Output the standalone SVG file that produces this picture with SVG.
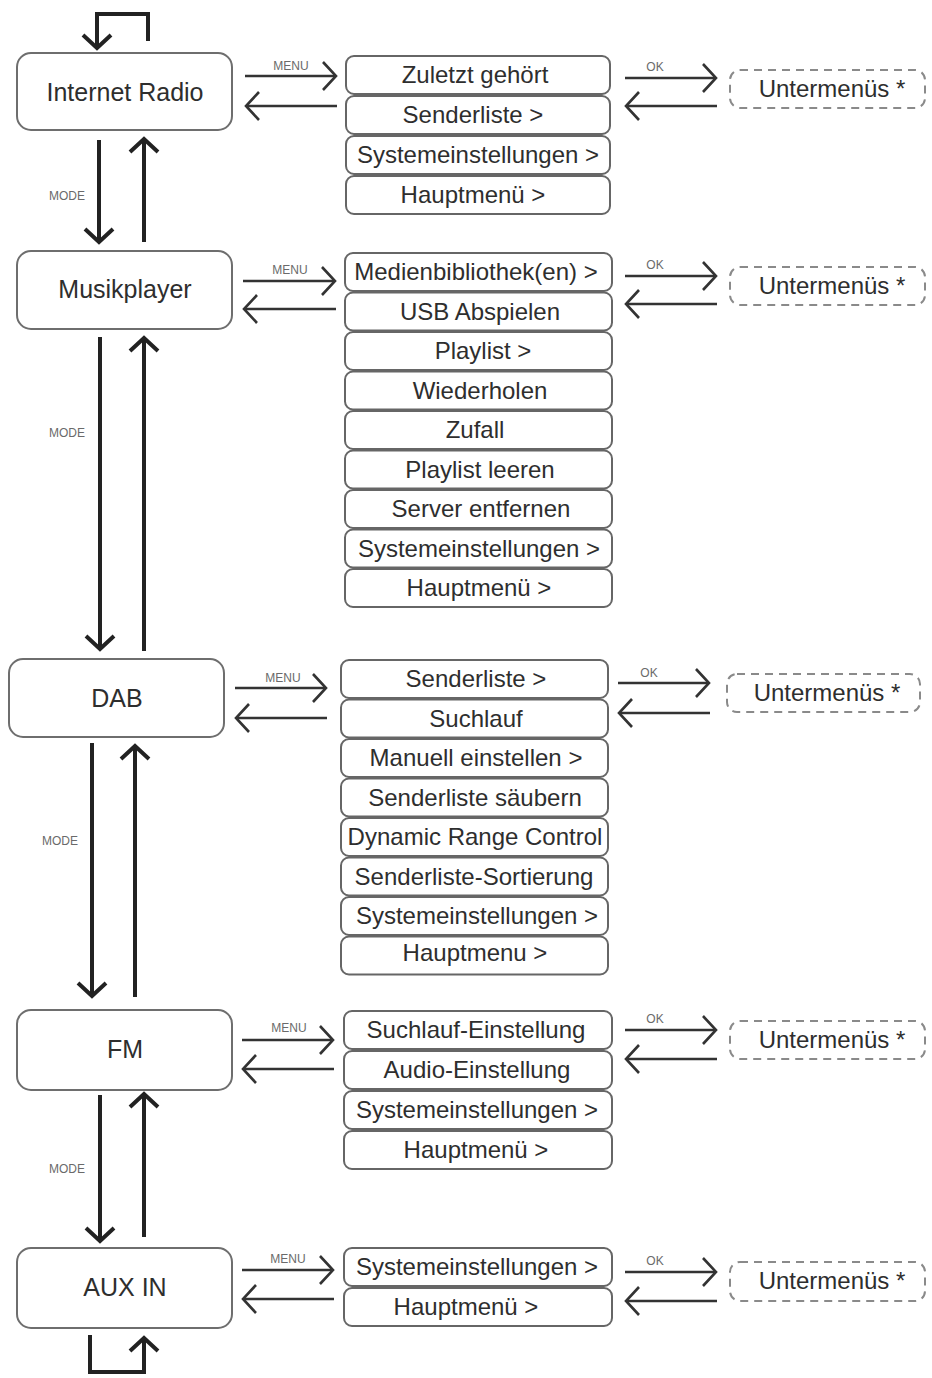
<svg xmlns="http://www.w3.org/2000/svg" width="932" height="1378" viewBox="0 0 932 1378">
<style>
  .bg{fill:#ffffff}
  .node{fill:#ffffff;stroke:#6e6e6e;stroke-width:2}
  .item{fill:#ffffff;stroke:#666666;stroke-width:2}
  .sub{fill:#ffffff;stroke:#8a8a8a;stroke-width:2;stroke-dasharray:8 6}
  .t{font-family:"Liberation Sans",Arial,sans-serif;font-size:24px;fill:#2e2e2e;text-anchor:middle}
  .tm{font-family:"Liberation Sans",Arial,sans-serif;font-size:25px;fill:#2e2e2e;text-anchor:middle}
  .lbl{font-family:"Liberation Sans",Arial,sans-serif;font-size:12px;fill:#6a6a6a;text-anchor:middle}
  .mode{stroke:#222222;stroke-width:4;fill:none}
  .menu{stroke:#333333;stroke-width:2.6;fill:none}
</style>
<defs>
  <marker id="hThick" markerUnits="userSpaceOnUse" viewBox="-18 -18 22 36" refX="0" refY="0" markerWidth="22" markerHeight="36" orient="auto">
    <path d="M-13,-14 L0,0 L-13,14" fill="none" stroke="#222222" stroke-width="4"/>
  </marker>
  <marker id="hThin" markerUnits="userSpaceOnUse" viewBox="-18 -18 22 36" refX="0" refY="0" markerWidth="22" markerHeight="36" orient="auto">
    <path d="M-13,-14 L0,0 L-13,14" fill="none" stroke="#333333" stroke-width="2.6"/>
  </marker>
</defs>
<rect class="bg" x="0" y="0" width="932" height="1378"/>

<g id="connectors">
  <path class="mode" d="M148,41 L148,14 L97,14 L97,48" marker-end="url(#hThick)"/>
  <path class="mode" d="M90,1335 L90,1372 L144,1372 L144,1338" marker-end="url(#hThick)"/>
  <line class="mode" x1="99" y1="140" x2="99" y2="242" marker-end="url(#hThick)"/>
  <line class="mode" x1="144" y1="242" x2="144" y2="139" marker-end="url(#hThick)"/>
  <text class="lbl" x="67" y="200">MODE</text>
  <line class="mode" x1="100" y1="337" x2="100" y2="649" marker-end="url(#hThick)"/>
  <line class="mode" x1="144" y1="651" x2="144" y2="338" marker-end="url(#hThick)"/>
  <text class="lbl" x="67" y="437">MODE</text>
  <line class="mode" x1="92" y1="743" x2="92" y2="996" marker-end="url(#hThick)"/>
  <line class="mode" x1="135" y1="997" x2="135" y2="746" marker-end="url(#hThick)"/>
  <text class="lbl" x="60" y="845">MODE</text>
  <line class="mode" x1="100" y1="1095" x2="100" y2="1241" marker-end="url(#hThick)"/>
  <line class="mode" x1="144" y1="1237" x2="144" y2="1094" marker-end="url(#hThick)"/>
  <text class="lbl" x="67" y="1173">MODE</text>

  <line class="menu" x1="245" y1="76" x2="336" y2="76" marker-end="url(#hThin)"/>
  <line class="menu" x1="337" y1="106" x2="246" y2="106" marker-end="url(#hThin)"/>
  <text class="lbl" x="291" y="70">MENU</text>
  <line class="menu" x1="625" y1="78" x2="716" y2="78" marker-end="url(#hThin)"/>
  <line class="menu" x1="717" y1="106" x2="626" y2="106" marker-end="url(#hThin)"/>
  <text class="lbl" x="655" y="71">OK</text>

  <line class="menu" x1="243" y1="281" x2="335" y2="281" marker-end="url(#hThin)"/>
  <line class="menu" x1="336" y1="309" x2="244" y2="309" marker-end="url(#hThin)"/>
  <text class="lbl" x="290" y="274">MENU</text>
  <line class="menu" x1="625" y1="276" x2="716" y2="276" marker-end="url(#hThin)"/>
  <line class="menu" x1="717" y1="304" x2="626" y2="304" marker-end="url(#hThin)"/>
  <text class="lbl" x="655" y="269">OK</text>

  <line class="menu" x1="235" y1="688" x2="326" y2="688" marker-end="url(#hThin)"/>
  <line class="menu" x1="327" y1="718" x2="236" y2="718" marker-end="url(#hThin)"/>
  <text class="lbl" x="283" y="682">MENU</text>
  <line class="menu" x1="618" y1="683" x2="709" y2="683" marker-end="url(#hThin)"/>
  <line class="menu" x1="710" y1="713" x2="619" y2="713" marker-end="url(#hThin)"/>
  <text class="lbl" x="649" y="677">OK</text>

  <line class="menu" x1="242" y1="1040" x2="333" y2="1040" marker-end="url(#hThin)"/>
  <line class="menu" x1="334" y1="1069" x2="243" y2="1069" marker-end="url(#hThin)"/>
  <text class="lbl" x="289" y="1032">MENU</text>
  <line class="menu" x1="625" y1="1030" x2="716" y2="1030" marker-end="url(#hThin)"/>
  <line class="menu" x1="717" y1="1059" x2="626" y2="1059" marker-end="url(#hThin)"/>
  <text class="lbl" x="655" y="1023">OK</text>

  <line class="menu" x1="242" y1="1270" x2="333" y2="1270" marker-end="url(#hThin)"/>
  <line class="menu" x1="334" y1="1299" x2="243" y2="1299" marker-end="url(#hThin)"/>
  <text class="lbl" x="288" y="1263">MENU</text>
  <line class="menu" x1="625" y1="1272" x2="716" y2="1272" marker-end="url(#hThin)"/>
  <line class="menu" x1="717" y1="1301" x2="626" y2="1301" marker-end="url(#hThin)"/>
  <text class="lbl" x="655" y="1265">OK</text>
</g>

<g id="node-internet-radio">
  <rect class="node" x="17" y="53" width="215" height="77" rx="14"/>
  <text class="tm" x="125" y="101">Internet Radio</text>
</g>
<g id="node-musikplayer">
  <rect class="node" x="17" y="251" width="215" height="78" rx="14"/>
  <text class="tm" x="125" y="298">Musikplayer</text>
</g>
<g id="node-dab">
  <rect class="node" x="9" y="659" width="215" height="78" rx="14"/>
  <text class="tm" x="117" y="707">DAB</text>
</g>
<g id="node-fm">
  <rect class="node" x="17" y="1010" width="215" height="80" rx="14"/>
  <text class="tm" x="125" y="1058">FM</text>
</g>
<g id="node-aux-in">
  <rect class="node" x="17" y="1248" width="215" height="80" rx="14"/>
  <text class="tm" x="125" y="1296">AUX IN</text>
</g>

<g id="menu-internet-radio">
  <rect class="item" x="346" y="56" width="264" height="38" rx="8"/>
  <text class="t" x="475" y="83">Zuletzt gehört</text>
  <rect class="item" x="346" y="96" width="264" height="38" rx="8"/>
  <text class="t" x="473" y="123">Senderliste &gt;</text>
  <rect class="item" x="346" y="136" width="264" height="38" rx="8"/>
  <text class="t" x="478" y="163">Systemeinstellungen &gt;</text>
  <rect class="item" x="346" y="176" width="264" height="38" rx="8"/>
  <text class="t" x="473" y="203">Hauptmenü &gt;</text>
</g>
<g id="sub-internet-radio">
  <rect class="sub" x="730" y="70" width="195" height="38" rx="10"/>
  <text class="t" x="832" y="97">Untermenüs *</text>
</g>

<g id="menu-musikplayer">
  <rect class="item" x="345" y="253" width="267" height="38" rx="8"/>
  <text class="t" x="476" y="280">Medienbibliothek(en) &gt;</text>
  <rect class="item" x="345" y="292.5" width="267" height="38" rx="8"/>
  <text class="t" x="480" y="319.5">USB Abspielen</text>
  <rect class="item" x="345" y="332" width="267" height="38" rx="8"/>
  <text class="t" x="483" y="359">Playlist &gt;</text>
  <rect class="item" x="345" y="371.5" width="267" height="38" rx="8"/>
  <text class="t" x="480" y="398.5">Wiederholen</text>
  <rect class="item" x="345" y="411" width="267" height="38" rx="8"/>
  <text class="t" x="475" y="438">Zufall</text>
  <rect class="item" x="345" y="450.5" width="267" height="38" rx="8"/>
  <text class="t" x="480" y="477.5">Playlist leeren</text>
  <rect class="item" x="345" y="490" width="267" height="38" rx="8"/>
  <text class="t" x="481" y="517">Server entfernen</text>
  <rect class="item" x="345" y="529.5" width="267" height="38" rx="8"/>
  <text class="t" x="479" y="556.5">Systemeinstellungen &gt;</text>
  <rect class="item" x="345" y="569" width="267" height="38" rx="8"/>
  <text class="t" x="479" y="596">Hauptmenü &gt;</text>
</g>
<g id="sub-musikplayer">
  <rect class="sub" x="730" y="267" width="195" height="38" rx="10"/>
  <text class="t" x="832" y="294">Untermenüs *</text>
</g>

<g id="menu-dab">
  <rect class="item" x="341" y="660" width="267" height="38" rx="8"/>
  <text class="t" x="476" y="687">Senderliste &gt;</text>
  <rect class="item" x="341" y="699.5" width="267" height="38" rx="8"/>
  <text class="t" x="476" y="726.5">Suchlauf</text>
  <rect class="item" x="341" y="739" width="267" height="38" rx="8"/>
  <text class="t" x="476" y="766">Manuell einstellen &gt;</text>
  <rect class="item" x="341" y="778.5" width="267" height="38" rx="8"/>
  <text class="t" x="475" y="805.5">Senderliste säubern</text>
  <rect class="item" x="341" y="818" width="267" height="38" rx="8"/>
  <text class="t" x="475" y="845">Dynamic Range Control</text>
  <rect class="item" x="341" y="857.5" width="267" height="38" rx="8"/>
  <text class="t" x="474" y="884.5">Senderliste-Sortierung</text>
  <rect class="item" x="341" y="897" width="267" height="38" rx="8"/>
  <text class="t" x="477" y="924">Systemeinstellungen &gt;</text>
  <rect class="item" x="341" y="936.5" width="267" height="38" rx="8"/>
  <text class="t" x="475" y="961">Hauptmenu &gt;</text>
</g>
<g id="sub-dab">
  <rect class="sub" x="727" y="674" width="193" height="38" rx="10"/>
  <text class="t" x="827" y="701">Untermenüs *</text>
</g>

<g id="menu-fm">
  <rect class="item" x="344" y="1011" width="268" height="38" rx="8"/>
  <text class="t" x="476" y="1038">Suchlauf-Einstellung</text>
  <rect class="item" x="344" y="1051" width="268" height="38" rx="8"/>
  <text class="t" x="477" y="1078">Audio-Einstellung</text>
  <rect class="item" x="344" y="1091" width="268" height="38" rx="8"/>
  <text class="t" x="477" y="1118">Systemeinstellungen &gt;</text>
  <rect class="item" x="344" y="1131" width="268" height="38" rx="8"/>
  <text class="t" x="476" y="1158">Hauptmenü &gt;</text>
</g>
<g id="sub-fm">
  <rect class="sub" x="730" y="1021" width="195" height="38" rx="10"/>
  <text class="t" x="832" y="1048">Untermenüs *</text>
</g>

<g id="menu-aux-in">
  <rect class="item" x="344" y="1248" width="268" height="38" rx="8"/>
  <text class="t" x="477" y="1275">Systemeinstellungen &gt;</text>
  <rect class="item" x="344" y="1288" width="268" height="38" rx="8"/>
  <text class="t" x="466" y="1315">Hauptmenü &gt;</text>
</g>
<g id="sub-aux-in">
  <rect class="sub" x="730" y="1262" width="195" height="39" rx="10"/>
  <text class="t" x="832" y="1289">Untermenüs *</text>
</g>
</svg>
